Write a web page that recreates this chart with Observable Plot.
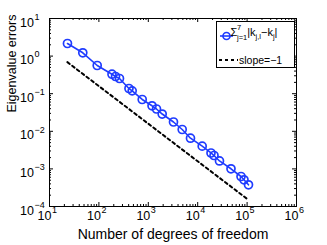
<!DOCTYPE html>
<html><head><meta charset="utf-8">
<script src="https://cdn.jsdelivr.net/npm/d3@7"></script>
<script src="https://cdn.jsdelivr.net/npm/@observablehq/plot@0.6"></script>
<style>
body{margin:0;background:#fff;}
#chart{width:327px;height:245px;}
</style></head><body><div id="chart"></div>
<script>
// Data
const dofs = [23.1, 47.2, 92.4, 184, 217, 261, 406, 472, 753, 1189, 1466, 1911, 3236, 4855, 7145, 12330, 18580, 21380, 27610, 47200, 75300, 86500, 106700];
const errors = [2.16, 1.224, 0.562, 0.330, 0.287, 0.2537, 0.1375, 0.1194, 0.0702, 0.0477, 0.0392, 0.0288, 0.01766, 0.01117, 0.00655, 0.00402, 0.00265, 0.00227, 0.001626, 0.001007, 0.000628, 0.000513, 0.000378];
const slopeDofs = [23, 107000];
const slopeErrors = [0.69, 0.000149];

// Tick values and labels
const xMajor = [1e1, 1e2, 1e3, 1e4, 1e5, 1e6];
const xExponents = ["1", "2", "3", "4", "5", "6"];
const yMajor = [1e-4, 1e-3, 1e-2, 1e-1, 1e0, 1e1];
const yExponents = ["\u22124", "\u22123", "\u22122", "\u22121", "0", "1"];
const minorDigits = [2, 3, 4, 5, 6, 7, 8, 9];
const xMinor = xMajor.slice(0, -1).flatMap(p => minorDigits.map(d => d * p));
const yMinor = yMajor.slice(0, -1).flatMap(p => minorDigits.map(d => d * p));

const series = dofs.map((x, i) => ({x, y: errors[i]}));
const slope = slopeDofs.map((x, i) => ({x, y: slopeErrors[i]}));

const W = 327, H = 245, mL = 49, mR = 31, mT = 18, mB = 39;
const fW = W - mL - mR, fH = H - mT - mB;
const majLen = 4, minLen = 2;
const blue = "#1f3cff";
const font = "'Liberation Sans', Arial, Helvetica, sans-serif";

const plot = Plot.plot({
  width: W, height: H,
  marginLeft: mL, marginRight: mR, marginTop: mT, marginBottom: mB,
  x: {type: "log", domain: [10, 1e6], axis: null},
  y: {type: "log", domain: [1e-4, 10], axis: null},
  style: {fontFamily: font, background: "white", color: "black"},
  marks: [
    Plot.tickX(xMajor, {x: d => d, insetTop: fH - majLen, stroke: "black"}),
    Plot.tickX(xMajor, {x: d => d, insetBottom: fH - majLen, stroke: "black"}),
    Plot.tickX(xMinor, {x: d => d, insetTop: fH - minLen, stroke: "black"}),
    Plot.tickX(xMinor, {x: d => d, insetBottom: fH - minLen, stroke: "black"}),
    Plot.tickY(yMajor, {y: d => d, insetRight: fW - majLen, stroke: "black"}),
    Plot.tickY(yMajor, {y: d => d, insetLeft: fW - majLen, stroke: "black"}),
    Plot.tickY(yMinor, {y: d => d, insetRight: fW - minLen, stroke: "black"}),
    Plot.tickY(yMinor, {y: d => d, insetLeft: fW - minLen, stroke: "black"}),
    Plot.line(slope, {x: "x", y: "y", stroke: "black", strokeWidth: 2, strokeDasharray: "3,3"}),
    Plot.line(series, {x: "x", y: "y", stroke: blue, strokeWidth: 1.6}),
    Plot.dot(series, {x: "x", y: "y", r: 4, stroke: blue, strokeWidth: 1.7, fill: "none"}),
    Plot.frame({stroke: "black", strokeWidth: 1}),
    // x tick labels
    Plot.text(xMajor, {x: d => d, frameAnchor: "bottom", text: () => "10", textAnchor: "end", dx: 2, dy: 13, fontSize: 12.5, fill: "black"}),
    Plot.text(xMajor, {x: d => d, frameAnchor: "bottom", text: (d, i) => xExponents[i], textAnchor: "start", dx: 2.5, dy: 6.5, fontSize: 9, fill: "black"}),
    // y tick labels
    Plot.text(yMajor, {y: d => d, frameAnchor: "left", text: () => "10", textAnchor: "end", dx: -15.5, dy: 4, fontSize: 12.5, fill: "black"}),
    Plot.text(yMajor, {y: d => d, frameAnchor: "left", text: (d, i) => yExponents[i], textAnchor: "start", dx: -15, dy: -1.5, fontSize: 9, fill: "black"}),
    // axis titles
    Plot.text(["Number of degrees of freedom"], {frameAnchor: "bottom", dy: 32.5, fontSize: 14, fill: "black"}),
    Plot.text(["Eigenvalue errors"], {frameAnchor: "left", rotate: -90, dx: -38, fontSize: 12.5, fill: "black"})
  ]
});

// Legend
const svg = d3.select(plot);
const g = svg.append("g").attr("font-family", font).attr("fill", "black").attr("text-anchor", "start");
g.append("rect").attr("x", 216.5).attr("y", 21.5).attr("width", 78).attr("height", 46)
  .attr("fill", "white").attr("stroke", "black").attr("stroke-width", 1);
g.append("line").attr("x1", 220).attr("x2", 233).attr("y1", 36).attr("y2", 36)
  .attr("stroke", blue).attr("stroke-width", 1.6);
g.append("circle").attr("cx", 226.5).attr("cy", 36).attr("r", 3.5)
  .attr("fill", "none").attr("stroke", blue).attr("stroke-width", 1.7);
const t = g.append("text").attr("x", 230.5).attr("y", 35.5).attr("font-size", 11);
t.append("tspan").text("\u03A3");
t.append("tspan").attr("x", 237).attr("dy", -5.5).attr("font-size", 7.5).text("7");
t.append("tspan").attr("x", 237).attr("dy", 9.5).attr("font-size", 7.5).text("j=1");
t.append("tspan").attr("dy", -4).text("|k");
t.append("tspan").attr("dy", 3).attr("font-size", 7.5).text("j,l");
t.append("tspan").attr("dy", -3).text("\u2212k");
t.append("tspan").attr("dy", 3).attr("font-size", 7.5).text("j");
t.append("tspan").attr("dy", -3).text("|");
g.append("line").attr("x1", 219).attr("x2", 238).attr("y1", 60).attr("y2", 60)
  .attr("stroke", "black").attr("stroke-width", 2).attr("stroke-dasharray", "3,3");
g.append("text").attr("x", 239).attr("y", 64).attr("font-size", 10.5).text("slope=\u22121");

document.getElementById("chart").appendChild(plot);
</script>
</body></html>
